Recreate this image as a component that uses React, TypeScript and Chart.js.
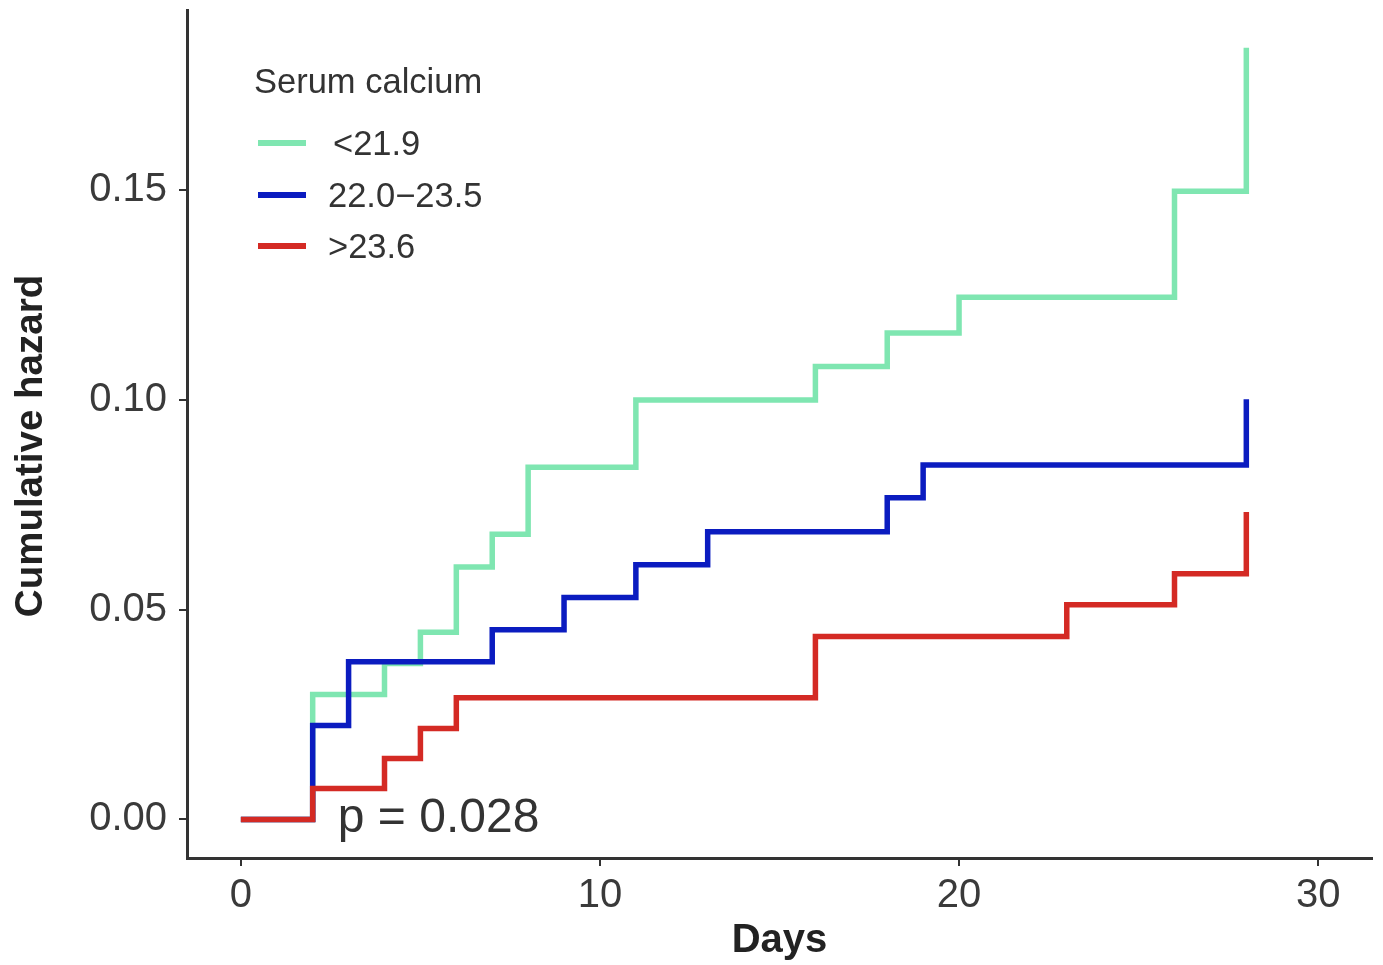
import React, { useEffect, useRef } from "react";
import { Chart, registerables } from "chart.js";

Chart.register(...registerables);

// ---- data ----
const seriesNames = ["<21.9", "22.0\u221223.5", ">23.6"];
const seriesColors = ["#7fe6b1", "#0b1cc0", "#d42a24"];

const lowDays = [0, 2, 4, 5, 6, 7, 8, 11, 16, 18, 20, 26, 28];
const lowHazard = [0, 0.0298, 0.0372, 0.0446, 0.0602, 0.068, 0.084, 0.1, 0.108, 0.116, 0.1245, 0.1498, 0.184];

const midDays = [0, 2, 3, 7, 9, 11, 13, 18, 19, 28];
const midHazard = [0, 0.0224, 0.0376, 0.0452, 0.0529, 0.0607, 0.0686, 0.0767, 0.0845, 0.1002];

const highDays = [0, 2, 4, 5, 6, 16, 23, 26, 28];
const highHazard = [0, 0.0074, 0.0145, 0.0217, 0.029, 0.0436, 0.0512, 0.0586, 0.0733];

const xTicks = [0, 10, 20, 30];
const yTicks = [0, 0.05, 0.1, 0.15];
const yTickLabels = ["0.00", "0.05", "0.10", "0.15"];

const legendTitle = "Serum calcium";
const pValueText = "p = 0.028";
const xTitle = "Days";
const yTitle = "Cumulative hazard";

const FONT = "'Liberation Sans', Arial, Helvetica, sans-serif";

function toPoints(xs: number[], ys: number[]) {
  return xs.map((x, i) => ({ x, y: ys[i] }));
}

const overlayPlugin = {
  id: "overlay",
  afterDraw(chart: any) {
    const { ctx, chartArea, scales } = chart;
    ctx.save();
    // legend
    const lx = chartArea.left + 67;
    ctx.fillStyle = "#333333";
    ctx.font = `34.5px ${FONT}`;
    ctx.textAlign = "left";
    ctx.textBaseline = "alphabetic";
    ctx.fillText(legendTitle, lx, 93);
    const rows = [143, 195, 246];
    const textShift = [5, 0, 0];
    seriesNames.forEach((name, i) => {
      ctx.strokeStyle = seriesColors[i];
      ctx.lineWidth = 6;
      ctx.beginPath();
      ctx.moveTo(lx + 4, rows[i]);
      ctx.lineTo(lx + 52, rows[i]);
      ctx.stroke();
      ctx.fillStyle = "#333333";
      ctx.textBaseline = "middle";
      ctx.fillText(name, lx + 74 + textShift[i], rows[i] + 2);
    });
    // p value
    ctx.font = `48px ${FONT}`;
    ctx.textBaseline = "alphabetic";
    ctx.fillStyle = "#333333";
    const px = scales.x.getPixelForValue(2.7);
    const py = scales.y.getPixelForValue(-0.003);
    ctx.fillText(pValueText, px, py);
    // y axis title
    ctx.translate(31, 446);
    ctx.rotate(-Math.PI / 2);
    ctx.font = `bold 38.5px ${FONT}`;
    ctx.fillStyle = "#222222";
    ctx.textAlign = "center";
    ctx.textBaseline = "middle";
    ctx.fillText(yTitle, 0, 0);
    ctx.restore();
  },
};

export default function App() {
  const ref = useRef<HTMLCanvasElement | null>(null);
  useEffect(() => {
    document.body.style.margin = "0";
    const canvas = ref.current;
    if (!canvas) return;
    const mk = (i: number, xs: number[], ys: number[], order: number) => ({
      label: seriesNames[i],
      data: toPoints(xs, ys),
      borderColor: seriesColors[i],
      backgroundColor: seriesColors[i],
      borderWidth: 5.5,
      stepped: true,
      pointRadius: 0,
      fill: false,
      order,
    });
    const chart = new Chart(canvas, {
      type: "line",
      data: {
        datasets: [
          mk(0, lowDays, lowHazard, 3),
          mk(1, midDays, midHazard, 2),
          mk(2, highDays, highHazard, 1),
        ],
      },
      plugins: [overlayPlugin],
      options: {
        animation: false,
        responsive: false,
        devicePixelRatio: 1,
        layout: { padding: { top: 10, right: 11, left: 0, bottom: 0 } },
        plugins: { legend: { display: false }, tooltip: { enabled: false } },
        scales: {
          x: {
            type: "linear",
            min: -1.5,
            max: 31.5,
            afterBuildTicks: (s: any) => {
              s.ticks = xTicks.map((v) => ({ value: v }));
            },
            afterFit: (s: any) => {
              s.height = 107;
              s.paddingLeft = 0;
              s.paddingRight = 0;
            },
            grid: { drawOnChartArea: false, drawTicks: true, tickLength: 8, color: "#333333", lineWidth: 2 },
            border: { display: true, color: "#333333", width: 3 },
            ticks: {
              font: { family: FONT, size: 40 },
              color: "#3a3a3a",
              padding: 6,
              maxRotation: 0,
              autoSkip: false,
              callback: (v: any) => String(v),
            },
            title: {
              display: true,
              text: xTitle,
              font: { family: FONT, size: 40, weight: "bold" },
              color: "#222222",
              padding: { top: 0, bottom: 0 },
            },
          },
          y: {
            type: "linear",
            min: -0.0092,
            max: 0.193,
            afterBuildTicks: (s: any) => {
              s.ticks = yTicks.map((v) => ({ value: v }));
            },
            afterFit: (s: any) => {
              s.width = 187;
              s.paddingTop = 0;
              s.paddingBottom = 0;
            },
            grid: { drawOnChartArea: false, drawTicks: true, tickLength: 8, color: "#333333", lineWidth: 2 },
            border: { display: true, color: "#333333", width: 3 },
            ticks: {
              font: { family: FONT, size: 40 },
              color: "#3a3a3a",
              padding: 12,
              autoSkip: false,
              callback: (v: any) => {
                const i = yTicks.findIndex((t) => Math.abs(t - v) < 1e-9);
                return i >= 0 ? yTickLabels[i] : "";
              },
            },
            title: { display: false },
          },
        },
      },
    } as any);
    return () => chart.destroy();
  }, []);
  return (
    <div style={{ width: 1383, height: 965, background: "#ffffff" }}>
      <canvas ref={ref} width={1383} height={965} style={{ display: "block" }} />
    </div>
  );
}
